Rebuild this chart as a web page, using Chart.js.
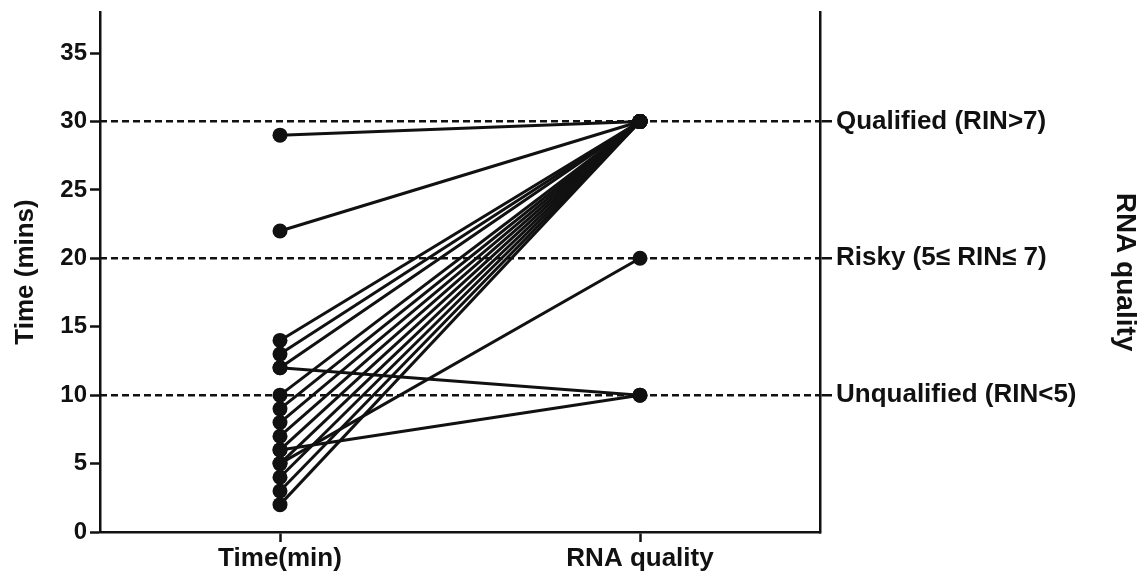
<!DOCTYPE html>
<html>
<head>
<meta charset="utf-8">
<script src="https://cdn.jsdelivr.net/npm/chart.js@4"></script>
<style>
  html, body { margin: 0; padding: 0; background: #fff; }
  #wrap { width: 1142px; height: 573px; }
</style>
</head>
<body>
<div id="wrap"><canvas id="c" width="1142" height="573"></canvas></div>
<script>
// categories on the x axis
var categories = ["Time(min)", "RNA quality"];

// one entry per sample: time taken (mins) and the RNA quality level it reached
var timeMins = [29, 22, 14, 13, 12, 12, 10, 9, 8, 7, 6, 6, 5, 5, 4, 3, 2];
var rnaLevel = [30, 30, 30, 30, 30, 10, 30, 30, 30, 30, 30, 10, 30, 20, 30, 30, 30];

// left axis ticks and the right-hand quality levels
var timeTicks = [0, 5, 10, 15, 20, 25, 30, 35];
var levelTicks = [10, 20, 30];
var levelLabels = ["Unqualified (RIN<5)", "Risky (5\u2264 RIN\u2264 7)", "Qualified (RIN>7)"];

var FONT = "'Liberation Sans', Arial, sans-serif";
var INK = "#111";

var datasets = timeMins.map(function (t, i) {
  return {
    label: "sample " + (i + 1),
    data: [t, rnaLevel[i]],
    borderColor: INK,
    backgroundColor: INK,
    borderWidth: 3,
    pointRadius: 7.5,
    pointBorderWidth: 0,
    pointBackgroundColor: INK,
    yAxisID: "y"
  };
});

new Chart(document.getElementById("c"), {
  type: "line",
  data: { labels: categories, datasets: datasets },
  options: {
    responsive: false,
    animation: false,
    layout: { padding: { top: 12, left: 0, right: 0, bottom: 0 } },
    plugins: { legend: { display: false }, tooltip: { enabled: false } },
    scales: {
      x: {
        offset: true,
        grid: { offset: false, drawOnChartArea: false, tickLength: 10, tickWidth: 2.5, tickColor: INK },
        border: { color: INK, width: 2.5 },
        ticks: { color: INK, padding: 1, font: { family: FONT, size: 26, weight: "bold" } },
        afterFit: function (s) { s.height = 41; }
      },
      y: {
        position: "left",
        min: 0,
        max: 38,
        afterBuildTicks: function (s) {
          s.ticks = timeTicks.map(function (v) { return { value: v }; });
        },
        grid: { drawOnChartArea: false, tickLength: 10, tickWidth: 2.5, tickColor: INK },
        border: { color: INK, width: 2.5 },
        ticks: { color: INK, padding: 3, font: { family: FONT, size: 24, weight: "bold" } },
        title: {
          display: true,
          text: "Time (mins)",
          color: INK,
          padding: { top: 10, bottom: 0 },
          font: { family: FONT, size: 26, weight: "bold" }
        },
        afterFit: function (s) { s.width = 100; s.paddingTop = 0; s.paddingBottom = 0; }
      },
      rna: {
        position: "right",
        min: 0,
        max: 38,
        afterBuildTicks: function (s) {
          s.ticks = levelTicks.map(function (v) { return { value: v }; });
        },
        grid: {
          drawOnChartArea: true,
          color: INK,
          lineWidth: 2.5,
          tickLength: 12,
          tickWidth: 2.5,
          tickColor: INK,
          tickBorderDash: []
        },
        border: { color: INK, width: 2.5, dash: [7, 4] },
        ticks: {
          color: INK,
          padding: 4,
          font: { family: FONT, size: 26, weight: "bold" },
          callback: function (v) {
            var k = levelTicks.indexOf(v);
            return k >= 0 ? levelLabels[k] : "";
          }
        },
        title: {
          display: true,
          text: "RNA quality",
          color: INK,
          padding: { top: 0, bottom: 0 },
          font: { family: FONT, size: 28, weight: "bold" }
        },
        afterFit: function (s) { s.width = 322; s.paddingTop = 0; s.paddingBottom = 0; }
      }
    }
  }
});
</script>
</body>
</html>
